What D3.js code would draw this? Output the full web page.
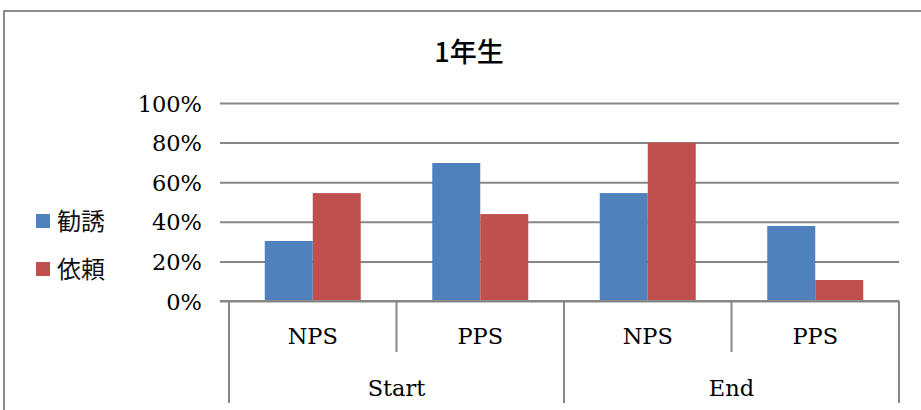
<!DOCTYPE html>
<html>
<head>
<meta charset="utf-8">
<script src="https://cdn.jsdelivr.net/npm/d3@7/dist/d3.min.js"></script>
<style>
  html, body { margin: 0; padding: 0; background: #fff; }
  svg { display: block; }
</style>
</head>
<body>
<svg id="chart" width="921" height="410"></svg>
<script>
// Survey results for first-year students, grouped by phase and type
const phases = ["Start", "End"];
const types = ["NPS", "PPS"];
const categories = [
  { phase: "Start", type: "NPS" },
  { phase: "Start", type: "PPS" },
  { phase: "End", type: "NPS" },
  { phase: "End", type: "PPS" }
];
const seriesNames = ["勧誘", "依頼"];
const kanyuu = [30.3, 69.7, 54.5, 37.9];
const irai = [54.5, 43.9, 80.0, 10.6];
const yTicks = [0, 20, 40, 60, 80, 100];
const titleText = "1年生";

const colors = ["#4F81BD", "#C0504D"];
const gridColor = "#878787";
const serif = "'DejaVu Serif', serif";
const cjk = "'Noto Sans CJK JP', sans-serif";
const labelSize = 22.5;

const svg = d3.select("#chart");

// chart frame
svg.append("path")
  .attr("d", "M4,420 V11 H930")
  .attr("fill", "none")
  .attr("stroke", "#8c8c8c")
  .attr("stroke-width", 2);

const plot = { left: 229, right: 899, top: 103, bottom: 301 };

const y = d3.scaleLinear().domain([0, 100]).range([plot.bottom, plot.top]);
const x0 = d3.scaleBand()
  .domain(categories.map((d, i) => i))
  .range([plot.left, plot.right])
  .paddingInner(0)
  .paddingOuter(0);
const x1 = d3.scaleBand()
  .domain(seriesNames)
  .range([0, x0.bandwidth()])
  .paddingInner(0)
  .paddingOuter(0.745);

// title
svg.append("text")
  .attr("x", 469)
  .attr("y", 62)
  .attr("text-anchor", "middle")
  .attr("font-family", cjk)
  .attr("font-weight", 500)
  .attr("font-size", 27)
  .attr("fill", "#000")
  .text(titleText);

// y axis with gridlines
const yAxis = d3.axisLeft(y)
  .tickValues(yTicks)
  .tickFormat(d => d + "%")
  .tickSize(plot.right - plot.left + 9)
  .tickPadding(18);

const gy = svg.append("g")
  .attr("transform", `translate(${plot.right},0)`)
  .call(yAxis);
gy.select(".domain").remove();
gy.selectAll(".tick line")
  .attr("stroke", gridColor)
  .attr("stroke-width", 2);
gy.selectAll(".tick text")
  .attr("font-family", serif)
  .attr("font-size", labelSize)
  .attr("fill", "#000")
  .attr("dy", "0.36em");

// bars
const series = [kanyuu, irai];
const groups = svg.append("g")
  .selectAll("g")
  .data(categories)
  .join("g")
  .attr("transform", (d, i) => `translate(${x0(i)},0)`);

groups.selectAll("rect")
  .data((d, i) => seriesNames.map((s, k) => ({ s, k, v: series[k][i] })))
  .join("rect")
  .attr("x", d => x1(d.s))
  .attr("width", x1.bandwidth())
  .attr("y", d => y(d.v))
  .attr("height", d => y(0) - y(d.v))
  .attr("fill", d => colors[d.k]);

// redraw the baseline over the bars
svg.append("line")
  .attr("x1", plot.left - 9).attr("x2", plot.right)
  .attr("y1", y(0)).attr("y2", y(0))
  .attr("stroke", gridColor).attr("stroke-width", 2);

// category axis: inner labels and separators
const innerBottom = 352;
const outerBottom = 403;
const axisG = svg.append("g");

categories.forEach((c, i) => {
  axisG.append("text")
    .attr("x", x0(i) + x0.bandwidth() / 2)
    .attr("y", 336)
    .attr("dy", "0.36em")
    .attr("text-anchor", "middle")
    .attr("font-family", serif)
    .attr("font-size", labelSize)
    .attr("fill", "#000")
    .text(c.type);
});

// separators between category boundaries
d3.range(categories.length + 1).forEach(i => {
  const xPos = i < categories.length ? x0(i) : plot.right;
  const isPhaseEdge = i === 0 || i === categories.length ||
    categories[i].phase !== categories[i - 1].phase;
  axisG.append("line")
    .attr("x1", xPos).attr("x2", xPos)
    .attr("y1", y(0)).attr("y2", isPhaseEdge ? outerBottom : innerBottom)
    .attr("stroke", gridColor).attr("stroke-width", 2);
});

// outer labels for phases
phases.forEach(p => {
  const idx = categories.map((c, i) => c.phase === p ? i : -1).filter(i => i >= 0);
  const xs = x0(idx[0]);
  const xe = x0(idx[idx.length - 1]) + x0.bandwidth();
  axisG.append("text")
    .attr("x", (xs + xe) / 2)
    .attr("y", 388)
    .attr("dy", "0.36em")
    .attr("text-anchor", "middle")
    .attr("font-family", serif)
    .attr("font-size", labelSize)
    .attr("fill", "#000")
    .text(p);
});

// legend
const legend = svg.append("g");
seriesNames.forEach((s, k) => {
  const cy = 221 + k * 48;
  legend.append("rect")
    .attr("x", 36).attr("y", cy - 7)
    .attr("width", 14).attr("height", 14)
    .attr("fill", colors[k]);
  legend.append("text")
    .attr("x", 57).attr("y", cy)
    .attr("dy", "0.36em")
    .attr("font-family", cjk)
    .attr("font-size", 24)
    .attr("fill", "#111")
    .text(s);
});
</script>
</body>
</html>
